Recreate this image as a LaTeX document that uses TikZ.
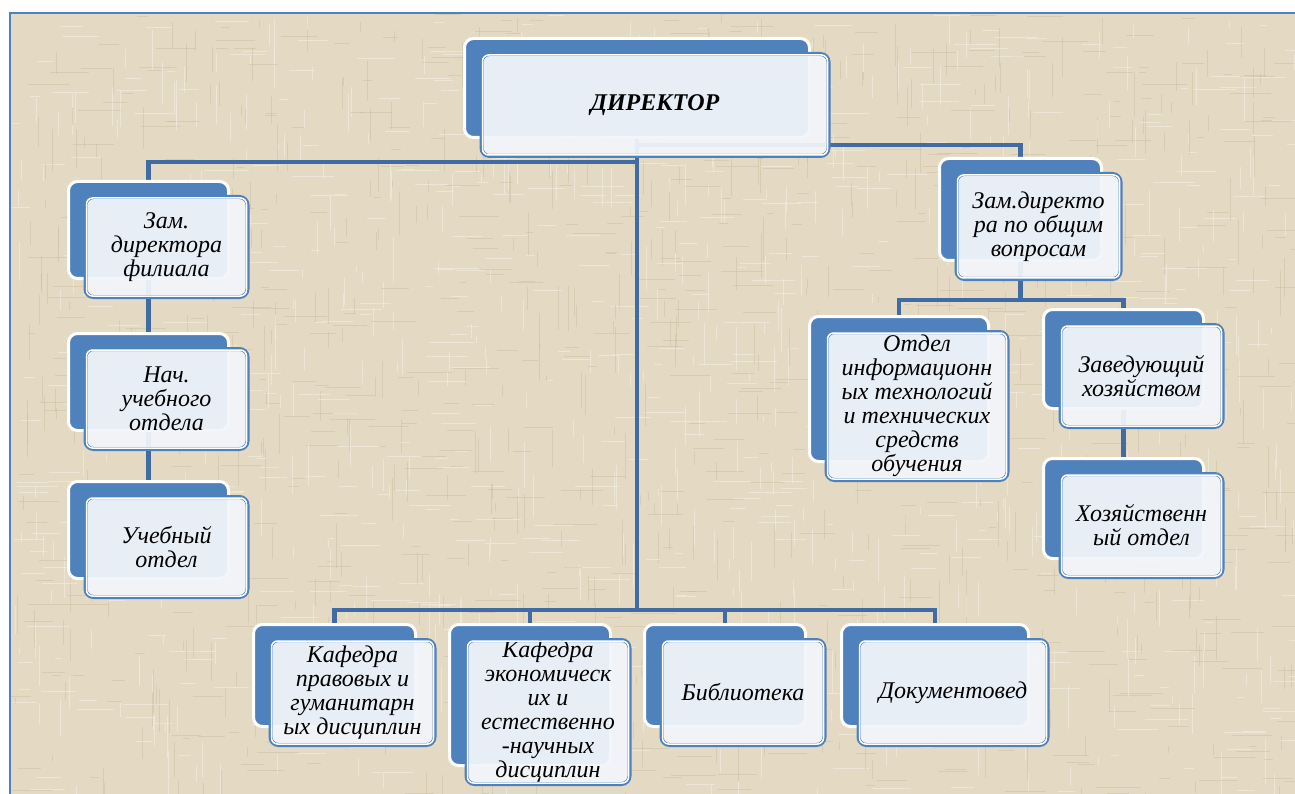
\documentclass[tikz,border=0pt]{standalone}
\usepackage{fontspec}
\setmainfont{Liberation Serif}
\newfontfamily\boxfam{Liberation Serif}
\pgfdeclarelayer{bottom}
\pgfdeclarelayer{background}
\pgfsetlayers{bottom,background,main}
\definecolor{bgbeige}{HTML}{E4D9C3}
\definecolor{texdark}{HTML}{C9BC9E}
\definecolor{texlight}{HTML}{F3EEE2}
\definecolor{boxblue}{HTML}{4F81BD}
\definecolor{linkblue}{HTML}{416CA3}
\definecolor{frontfill}{HTML}{F2F5FA}
\newcommand\boxfont{\boxfam\fontsize{24}{24}\selectfont\itshape}
\tikzset{
  backbox/.style={draw=white, line width=3pt, fill=boxblue, rounded corners=9pt, inner sep=0pt},
  frontbox/.style={draw=boxblue, line width=4pt, fill=frontfill, fill opacity=0.94, text opacity=1,
    rounded corners=8pt, inner sep=0pt, align=center, font=\boxfont},
  innerline/.style={draw=white, line width=1.5pt, rounded corners=6pt},
  conn/.style={draw=linkblue, line width=4.5pt},
  texd/.style={texdark, line width=0.9pt, opacity=0.45},
  texl/.style={texlight, line width=0.9pt, opacity=0.6},
}
\newcommand\orgbox[6]{%
  \node[backbox, minimum width=#4pt, minimum height=#5pt] (#1B) at (#2,#3) {};
  \node[frontbox, minimum width=#4pt+2pt, minimum height=#5pt+3pt] (#1) at ([shift={(18pt,-17pt)}]#1B.center) {#6};
  \draw[innerline] ([shift={(3pt,-3pt)}]#1.north west) rectangle ([shift={(-3pt,3pt)}]#1.south east);
}
\begin{document}
\begin{tikzpicture}[x=1pt,y=-1pt]
\useasboundingbox (0,0) rectangle (1295,794);
\begin{pgfonlayer}{bottom}
  \fill[white] (0,0) rectangle (1295,794);
  \fill[bgbeige] (9.5,13.5) rectangle (1295,794);
  \begin{scope}
    \clip (10,14) rectangle (1295,794);
    \pgfmathsetseed{11}
    \foreach \i in {1,...,550}{
      \pgfmathsetmacro\xx{10+rnd*1285}
      \pgfmathsetmacro\yy{14+rnd*780}
      \pgfmathsetmacro\ll{6+rnd*40}
      \draw[texd] (\xx,\yy) -- ++(\ll,0);
      \pgfmathsetmacro\xa{10+rnd*1285}
      \pgfmathsetmacro\ya{14+rnd*780}
      \pgfmathsetmacro\la{6+rnd*40}
      \draw[texd] (\xa,\ya) -- ++(0,\la);
      \pgfmathsetmacro\xb{10+rnd*1285}
      \pgfmathsetmacro\yb{14+rnd*780}
      \pgfmathsetmacro\lb{6+rnd*40}
      \draw[texl] (\xb,\yb) -- ++(\lb,0);
      \pgfmathsetmacro\xc{10+rnd*1285}
      \pgfmathsetmacro\yc{14+rnd*780}
      \pgfmathsetmacro\lc{6+rnd*40}
      \draw[texl] (\xc,\yc) -- ++(0,\lc);
    }
  \end{scope}
  \draw[boxblue, line width=2pt] (1295,13.5) -- (9.5,13.5) -- (9.5,794);
\end{pgfonlayer}

\orgbox{dir}{637}{88}{345}{99}{\textbf{ДИРЕКТОР}}
\orgbox{zamA}{148.5}{230}{160}{97}{Зам.\\директора\\филиала}
\orgbox{nach}{148.5}{382}{160}{97}{Нач.\\учебного\\отдела}
\orgbox{uch}{148.5}{530}{160}{97}{Учебный\\отдел}
\orgbox{zamB}{1020.5}{209.5}{162}{102}{Зам.директо\\ра по общим\\вопросам}
\orgbox{otd}{899}{389}{179}{145}{Отдел\\информационн\\ых технологий\\и технических\\средств\\обучения}
\orgbox{zav}{1123.5}{359}{160}{99}{Заведующий\\хозяйством}
\orgbox{hoz}{1123.5}{508.5}{160}{100}{Хозяйственн\\ый отдел}
\orgbox{kafA}{334.5}{675.5}{162}{102}{Кафедра\\правовых и\\гуманитарн\\ых дисциплин}
\orgbox{kafB}{530}{695}{161}{141}{Кафедра\\экономическ\\их и\\естественно\\-научных\\дисциплин}
\orgbox{bib}{725}{675.5}{161}{102}{Библиотека}
\orgbox{doc}{935}{675.5}{187}{102}{Документовед}

\begin{pgfonlayer}{background}
  \coordinate (jR) at (637,145);
  \coordinate (jL) at (637,162);
  \coordinate (jB) at (637,610);
  \coordinate (jS) at (1020.5,300);
  \draw[conn] (dirB.south) -- (jB);
  \draw[conn] (jR) -| (zamBB.north);
  \draw[conn] (jL) -| (zamAB.north);
  \draw[conn] (zamAB.south) -- (nachB.north);
  \draw[conn] (nachB.south) -- (uchB.north);
  \draw[conn] (jB) -| (kafAB.north);
  \draw[conn] (jB) -| (kafBB.north);
  \draw[conn] (jB) -| (bibB.north);
  \draw[conn] (jB) -| (docB.north);
  \draw[conn] (zamBB.south) -- (jS);
  \draw[conn] (jS) -| (otdB.north);
  \draw[conn] (jS) -| (zavB.north);
  \draw[conn] (zavB.south) -- (hozB.north);
\end{pgfonlayer}
\end{tikzpicture}
\end{document}
